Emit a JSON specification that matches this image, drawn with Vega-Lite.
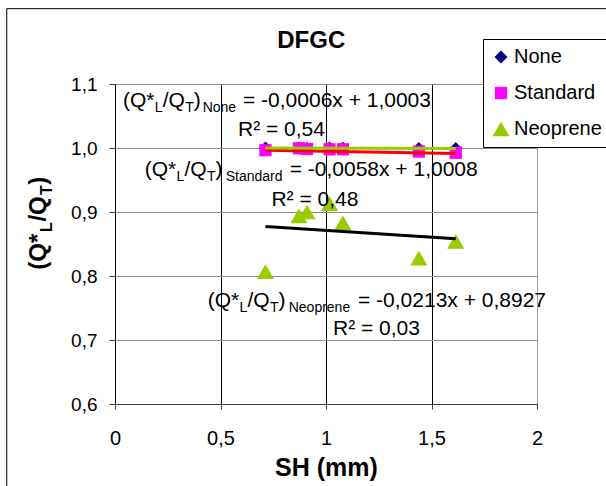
{
  "$schema": "https://vega.github.io/schema/vega-lite/v6.json",
  "width": 422,
  "height": 320,
  "autosize": {"type": "none"},
  "padding": {"left": 115, "top": 84, "right": 69, "bottom": 82},
  "background": "white",
  "config": {
    "view": {"stroke": null},
    "font": "Liberation Sans",
    "axis": {
      "labelFont": "Liberation Sans",
      "labelColor": "black",
      "labelFontSize": 19,
      "titleFont": "Liberation Sans",
      "titleColor": "black",
      "gridOpacity": 1,
      "gridWidth": 1,
      "tickColor": "#404040",
      "tickWidth": 1
    },
    "legend": {
      "strokeColor": "black",
      "fillColor": "white",
      "padding": 8,
      "labelFont": "Liberation Sans",
      "labelFontSize": 20,
      "labelColor": "black",
      "labelOffset": 3,
      "symbolOffset": 0,
      "symbolSize": 260,
      "rowPadding": 16
    }
  },
  "datasets": {
    "points": [
      {"series": "None", "x": 0.713, "y": 1.0},
      {"series": "None", "x": 0.872, "y": 1.0},
      {"series": "None", "x": 0.91, "y": 0.9995},
      {"series": "None", "x": 1.017, "y": 1.0},
      {"series": "None", "x": 1.08, "y": 0.9995},
      {"series": "None", "x": 1.44, "y": 0.999},
      {"series": "None", "x": 1.615, "y": 0.999},
      {"series": "Standard", "x": 0.713, "y": 0.9965},
      {"series": "Standard", "x": 0.872, "y": 0.9995},
      {"series": "Standard", "x": 0.91, "y": 0.9985},
      {"series": "Standard", "x": 1.017, "y": 0.998},
      {"series": "Standard", "x": 1.08, "y": 0.998},
      {"series": "Standard", "x": 1.44, "y": 0.9945},
      {"series": "Standard", "x": 1.615, "y": 0.9925},
      {"series": "Neoprene", "x": 0.713, "y": 0.807},
      {"series": "Neoprene", "x": 0.872, "y": 0.894},
      {"series": "Neoprene", "x": 0.91, "y": 0.9},
      {"series": "Neoprene", "x": 1.017, "y": 0.913},
      {"series": "Neoprene", "x": 1.08, "y": 0.883},
      {"series": "Neoprene", "x": 1.44, "y": 0.828},
      {"series": "Neoprene", "x": 1.615, "y": 0.854}
    ],
    "trends": [
      {"series": "None", "x": 0.713, "y": 0.999872},
      {"series": "None", "x": 1.615, "y": 0.999331},
      {"series": "Standard", "x": 0.713, "y": 0.996665},
      {"series": "Standard", "x": 1.615, "y": 0.991433},
      {"series": "Neoprene", "x": 0.713, "y": 0.877513},
      {"series": "Neoprene", "x": 1.615, "y": 0.8583}
    ],
    "eq_main": [
      {"text": "(Q*", "x": 0.0379, "y": 1.0641},
      {"text": "/Q", "x": 0.226, "y": 1.0641},
      {"text": ")", "x": 0.373, "y": 1.0641},
      {"text": "= -0,0006x + 1,0003", "x": 0.6066, "y": 1.0641},
      {"text": "R² = 0,54", "x": 0.5829, "y": 1.0181},
      {"text": "(Q*", "x": 0.1408, "y": 0.9556},
      {"text": "/Q", "x": 0.3289, "y": 0.9556},
      {"text": ")", "x": 0.4758, "y": 0.9556},
      {"text": "= -0,0058x + 1,0008", "x": 0.828, "y": 0.9556},
      {"text": "R² = 0,48", "x": 0.7412, "y": 0.9087},
      {"text": "(Q*", "x": 0.4393, "y": 0.7516},
      {"text": "/Q", "x": 0.6275, "y": 0.7516},
      {"text": ")", "x": 0.7744, "y": 0.7516},
      {"text": "= -0,0213x + 0,8927", "x": 1.1517, "y": 0.7516},
      {"text": "R² = 0,03", "x": 1.0332, "y": 0.7083}
    ],
    "eq_sub": [
      {"text": "L", "x": 0.1882, "y": 1.0641},
      {"text": "T", "x": 0.3327, "y": 1.0641},
      {"text": "None", "x": 0.4156, "y": 1.0641},
      {"text": "L", "x": 0.2911, "y": 0.9556},
      {"text": "T", "x": 0.4355, "y": 0.9556},
      {"text": "Standard", "x": 0.5246, "y": 0.9556},
      {"text": "L", "x": 0.5896, "y": 0.7516},
      {"text": "T", "x": 0.7341, "y": 0.7516},
      {"text": "Neoprene", "x": 0.8232, "y": 0.7516}
    ],
    "ytitle_main": [
      {"text": "(Q*", "x": -0.3284, "y": 0.8098},
      {"text": "/Q", "x": -0.3284, "y": 0.885},
      {"text": ")", "x": -0.3284, "y": 0.9427}
    ],
    "ytitle_sub": [
      {"text": "L", "x": -0.3284, "y": 0.8689},
      {"text": "T", "x": -0.3284, "y": 0.9266}
    ],
    "heading": [
      {"text": "DFGC", "x": 0.93, "y": 1.15625}
    ],
    "frame": [
      {"x": -0.513, "x2": 3.0, "y": 1.2177, "y2": 0.3}
    ]
  },
  "encoding": {
    "x": {
      "field": "x",
      "type": "quantitative",
      "scale": {"domain": [0, 2], "nice": false, "zero": false},
      "axis": {
        "values": [0, 0.5, 1, 1.5, 2],
        "format": "~g",
        "labelExpr": "replace(datum.label, '.', ',')",
        "labelFontSize": 20,
        "labelPadding": 19,
        "labelFlush": false,
        "tickSize": 5,
        "domainColor": "#404040",
        "gridColor": {"condition": {"test": "datum.value === 2", "value": "#a0a0a0"}, "value": "black"},
        "title": "SH (mm)",
        "titleFontSize": 25,
        "titleFontWeight": "bold",
        "titlePadding": 7
      }
    },
    "y": {
      "field": "y",
      "type": "quantitative",
      "scale": {"domain": [0.6, 1.1], "nice": false, "zero": false},
      "axis": {
        "values": [0.6, 0.7, 0.8, 0.9, 1.0, 1.1],
        "format": ".1f",
        "labelExpr": "replace(datum.label, '.', ',')",
        "labelPadding": 12,
        "tickSize": 6,
        "domainColor": "black",
        "gridColor": "#8c8c8c",
        "title": null
      }
    }
  },
  "layer": [
    {
      "data": {"name": "frame"},
      "mark": {"type": "rule", "color": "black", "strokeWidth": 1},
      "encoding": {
        "x": {"field": "x", "type": "quantitative"},
        "y": {"field": "y", "type": "quantitative"},
        "y2": {"field": "y2"}
      }
    },
    {
      "data": {"name": "frame"},
      "mark": {"type": "rule", "color": "black", "strokeWidth": 1},
      "encoding": {
        "x": {"field": "x", "type": "quantitative"},
        "x2": {"field": "x2"},
        "y": {"field": "y", "type": "quantitative"}
      }
    },
    {
      "data": {"name": "points"},
      "mark": {"type": "point", "filled": true, "opacity": 1},
      "encoding": {
        "color": {
          "field": "series",
          "type": "nominal",
          "scale": {"domain": ["None", "Standard", "Neoprene"], "range": ["#000080", "#ff00ff", "#99cc00"]},
          "legend": {"orient": "none", "legendX": 368, "legendY": -45, "title": null,
                     "encode": {"symbols": {"update": {"size": {"value": 260}}}}}
        },
        "shape": {
          "field": "series",
          "type": "nominal",
          "scale": {"domain": ["None", "Standard", "Neoprene"], "range": ["diamond", "square", "triangle-up"]},
          "legend": {"orient": "none", "legendX": 368, "legendY": -45, "title": null,
                     "encode": {"symbols": {"update": {"size": {"value": 260}}}}}
        },
        "size": {
          "field": "series",
          "type": "nominal",
          "scale": {"type": "ordinal", "domain": ["None", "Standard", "Neoprene"], "range": [170, 150, 290]},
          "legend": null
        }
      }
    },
    {
      "data": {"name": "trends"},
      "transform": [{"filter": "datum.series === 'Neoprene'"}],
      "mark": {"type": "line", "color": "black", "strokeWidth": 3}
    },
    {
      "data": {"name": "trends"},
      "transform": [{"filter": "datum.series === 'Standard'"}],
      "mark": {"type": "line", "color": "#ff0000", "strokeWidth": 3}
    },
    {
      "data": {"name": "trends"},
      "transform": [{"filter": "datum.series === 'None'"}],
      "mark": {"type": "line", "color": "#99cc00", "strokeWidth": 3}
    },
    {
      "data": {"name": "eq_main"},
      "mark": {"type": "text", "align": "left", "baseline": "alphabetic", "fontSize": 21, "color": "black"},
      "encoding": {"text": {"field": "text"}}
    },
    {
      "data": {"name": "eq_sub"},
      "mark": {"type": "text", "align": "left", "baseline": "alphabetic", "fontSize": 14, "dy": 5, "color": "black"},
      "encoding": {"text": {"field": "text"}}
    },
    {
      "data": {"name": "ytitle_main"},
      "mark": {"type": "text", "align": "left", "baseline": "alphabetic", "angle": 270, "fontSize": 24, "fontWeight": "bold", "color": "black"},
      "encoding": {"text": {"field": "text"}}
    },
    {
      "data": {"name": "ytitle_sub"},
      "mark": {"type": "text", "align": "left", "baseline": "alphabetic", "angle": 270, "fontSize": 16, "fontWeight": "bold", "dy": 6, "color": "black"},
      "encoding": {"text": {"field": "text"}}
    },
    {
      "data": {"name": "heading"},
      "mark": {"type": "text", "align": "center", "baseline": "alphabetic", "fontSize": 24, "fontWeight": "bold", "color": "black"},
      "encoding": {"text": {"field": "text"}}
    }
  ]
}
